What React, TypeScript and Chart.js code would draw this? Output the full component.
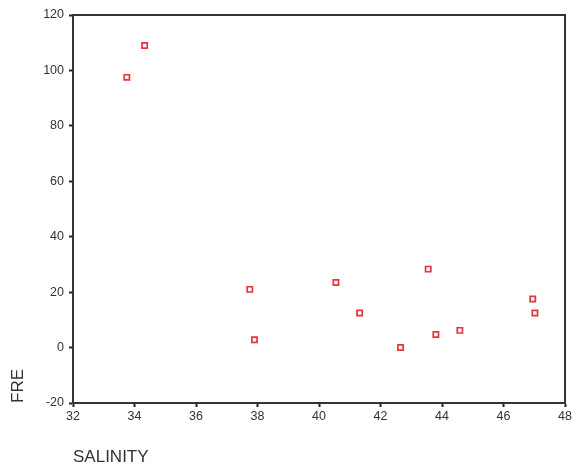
import React, { useEffect, useRef } from "react";
import { Chart, registerables } from "chart.js";

Chart.register(...registerables);

const salinity = [33.75, 34.33, 37.75, 37.9, 40.55, 41.32, 42.65, 43.55, 43.8, 44.58, 46.95, 47.02];
const fre = [97.5, 109, 21, 2.8, 23.5, 12.5, 0, 28.3, 4.7, 6.2, 17.5, 12.5];
const xTicks = [32, 34, 36, 38, 40, 42, 44, 46, 48];
const yTicks = [-20, 0, 20, 40, 60, 80, 100, 120];

const boxPlugin = {
  id: "boxPlugin",
  afterDatasetsDraw(chart: any) {
    const { ctx, chartArea } = chart;
    ctx.save();
    ctx.strokeStyle = "#333";
    ctx.lineWidth = 2;
    ctx.beginPath();
    ctx.moveTo(chartArea.left, chartArea.top);
    ctx.lineTo(chartArea.right, chartArea.top);
    ctx.lineTo(chartArea.right, chartArea.bottom);
    ctx.stroke();
    ctx.restore();
  },
};

export default function App() {
  const ref = useRef<HTMLCanvasElement>(null);
  useEffect(() => {
    document.body.style.margin = "0";
    const chart = new Chart(ref.current!, {
      type: "scatter",
      data: {
        datasets: [
          {
            data: salinity.map((s, i) => ({ x: s, y: fre[i] })),
            pointStyle: "rect",
            pointRadius: 3.7,
            borderColor: "#e8323c",
            backgroundColor: "rgba(255,255,255,0)",
            borderWidth: 1.7,
          },
        ],
      },
      options: {
        animation: false,
        responsive: false,
        layout: { padding: { top: 15, right: 7, left: 0, bottom: 0 } },
        plugins: { legend: { display: false }, tooltip: { enabled: false } },
        scales: {
          x: {
            type: "linear",
            min: 32,
            max: 48,
            afterBuildTicks: (s: any) => {
              s.ticks = xTicks.map((v) => ({ value: v }));
            },
            afterFit: (s: any) => {
              s.height = 66;
            },
            grid: { drawOnChartArea: false, drawTicks: true, tickLength: 4, tickColor: "#222", tickWidth: 2 },
            border: { display: true, color: "#333", width: 2 },
            ticks: { color: "#333", font: { family: "Arial, Liberation Sans", size: 12.5 }, padding: 2, maxRotation: 0 },
            title: {
              display: true,
              text: "SALINITY",
              align: "start",
              color: "#333",
              font: { family: "Arial, Liberation Sans", size: 17 },
              padding: { top: 0, bottom: 1 },
            },
          },
          y: {
            type: "linear",
            min: -20,
            max: 120,
            afterBuildTicks: (s: any) => {
              s.ticks = yTicks.map((v) => ({ value: v }));
            },
            afterFit: (s: any) => {
              s.width = 73;
            },
            grid: { drawOnChartArea: false, drawTicks: true, tickLength: 4, tickColor: "#222", tickWidth: 2 },
            border: { display: true, color: "#333", width: 2 },
            ticks: { color: "#333", font: { family: "Arial, Liberation Sans", size: 12.5 }, padding: 5 },
            title: {
              display: true,
              text: "FRE",
              align: "start",
              color: "#333",
              font: { family: "Arial, Liberation Sans", size: 17 },
              padding: { top: 8, bottom: 0 },
            },
          },
        },
      },
      plugins: [boxPlugin],
    });
    return () => chart.destroy();
  }, []);
  return (
    <div style={{ width: 574, height: 469, background: "#fff" }}>
      <canvas ref={ref} width={574} height={469} style={{ display: "block" }} />
    </div>
  );
}
